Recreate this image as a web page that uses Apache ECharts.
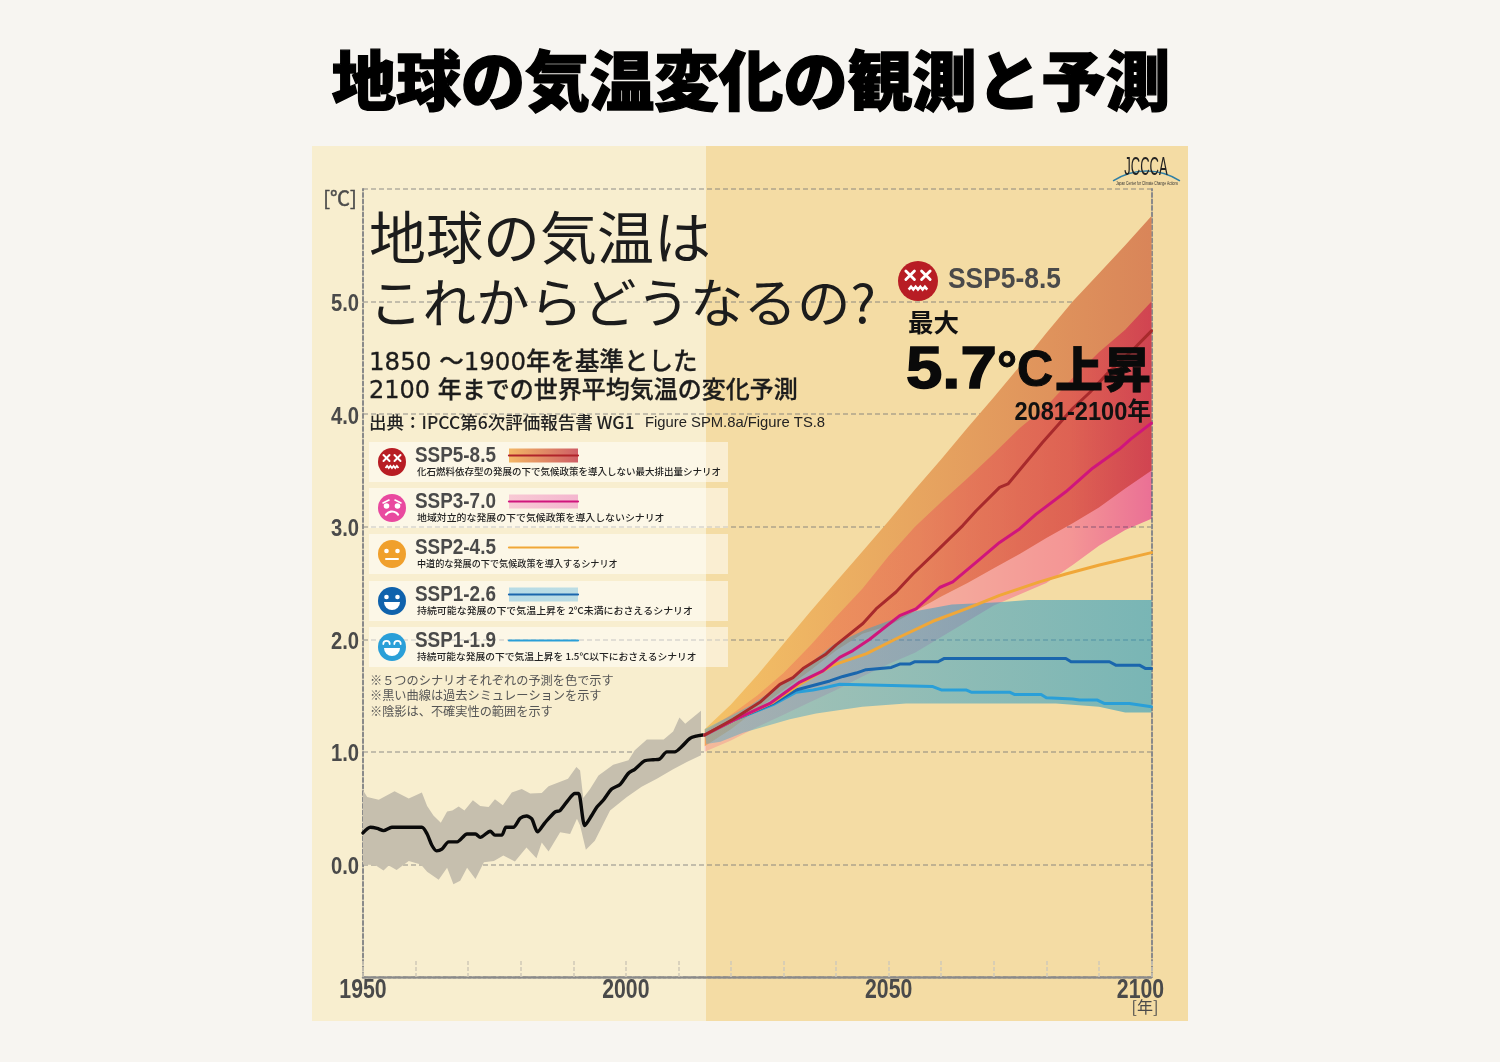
<!DOCTYPE html>
<html lang="ja"><head><meta charset="utf-8">
<script src="https://cdn.jsdelivr.net/npm/echarts@6/dist/echarts.min.js"></script>
<style>html,body{margin:0;padding:0;background:#f7f5f1}#c{width:1500px;height:1062px}</style>
</head><body><div id="c"></div>
<script>
// ---- data: [year, °C] ----
const xTickLabels = [1950, 2000, 2050, 2100];
const yTickLabels = [0, 1, 2, 3, 4, 5];
const scenarioNames = ['SSP5-8.5','SSP3-7.0','SSP2-4.5','SSP1-2.6','SSP1-1.9'];
const scenarioNotes = [
 '化石燃料依存型の発展の下で気候政策を導入しない最大排出量シナリオ',
 '地域対立的な発展の下で気候政策を導入しないシナリオ',
 '中道的な発展の下で気候政策を導入するシナリオ',
 '持続可能な発展の下で気温上昇を 2℃未満におさえるシナリオ',
 '持続可能な発展の下で気温上昇を 1.5℃以下におさえるシナリオ'];
const footNotes = ['※５つのシナリオそれぞれの予測を色で示す','※黒い曲線は過去シミュレーションを示す','※陰影は、不確実性の範囲を示す'];

const historyMean = [[1950,.28],[1951.4,.33],[1952.7,.32],[1953.9,.3],[1955.5,.33],[1961.2,.33],[1962.2,.27],[1963.1,.17],[1964,.12],[1965,.135],[1966.3,.2],[1967.9,.2],[1969.8,.27],[1971.4,.27],[1972.3,.24],[1974.2,.295],[1975.1,.26],[1976.4,.26],[1977.2,.33],[1978.6,.33],[1979.9,.41],[1981.1,.43],[1982.1,.405],[1983.2,.29],[1984.6,.37],[1986.5,.465],[1987.5,.48],[1989,.57],[1990.3,.63],[1991,.63],[1992.2,.345],[1993.5,.435],[1994.5,.51],[1995.7,.57],[1997.3,.67],[1998.9,.71],[2000.5,.81],[2001.7,.845],[2003.6,.92],[2005.2,.93],[2006.4,.935],[2007.8,1],[2009.3,1],[2010.6,1.045],[2012.2,1.12],[2013.4,1.14],[2014.6,1.15]];
const historyUpper = [[1950,.66],[1950.8,.6],[1953,.575],[1956,.65],[1958.7,.585],[1961.2,.64],[1962.2,.52],[1963.4,.435],[1964.8,.37],[1966,.47],[1967,.48],[1968.2,.515],[1969.3,.48],[1970.9,.57],[1972.3,.52],[1973.9,.51],[1975.1,.58],[1976.6,.525],[1978.3,.64],[1980.2,.67],[1981.8,.63],[1984,.635],[1985.3,.695],[1989,.76],[1990.6,.865],[1991.3,.835],[1991.9,.59],[1993.2,.67],[1994.8,.79],[1997.6,.885],[2000.5,.925],[2001.7,1.015],[2004,1.11],[2007.2,1.11],[2009,1.18],[2010.2,1.305],[2011.3,1.25],[2014.3,1.365]];
const historyLower = [[1950,0],[1952.3,-.005],[1953.9,-.055],[1954.9,-.01],[1956.4,-.05],[1958.7,.03],[1961,0],[1962.2,-.065],[1964.4,-.135],[1966,-.03],[1967.2,-.175],[1968.5,-.145],[1969.8,-.03],[1971.4,-.13],[1973,.02],[1974.9,.03],[1976.7,.08],[1978.9,.025],[1981.1,.15],[1983,.055],[1984,.195],[1985.3,.115],[1987.5,.285],[1989.4,.27],[1990.7,.405],[1991.3,.345],[1992.4,.13],[1994.1,.21],[1997,.48],[2000.2,.6],[2003,.69],[2005.9,.76],[2009,.845],[2011.6,.91],[2014.3,.97]];

const ssp585Upper = [[2015,1.2],[2020,1.42],[2025,1.68],[2030,1.96],[2035,2.24],[2040,2.51],[2045,2.78],[2050,3.05],[2055,3.33],[2060,3.6],[2065,3.88],[2070,4.15],[2075,4.43],[2080,4.72],[2085,5],[2090,5.25],[2095,5.5],[2100,5.76]];
const ssp585Lower = [[2015,1.05],[2020,1.2],[2025,1.38],[2030,1.55],[2035,1.72],[2040,1.9],[2045,2.05],[2050,2.12],[2055,2.25],[2060,2.38],[2065,2.5],[2070,2.63],[2075,2.76],[2080,2.9],[2085,3.03],[2090,3.17],[2095,3.34],[2100,3.5]];
const ssp370Upper = [[2015,1.18],[2020,1.33],[2025,1.5],[2030,1.7],[2035,1.94],[2040,2.2],[2045,2.45],[2050,2.74],[2055,3],[2060,3.22],[2065,3.43],[2070,3.65],[2075,3.88],[2080,4.07],[2085,4.32],[2090,4.55],[2095,4.75],[2100,5]];
const ssp370Lower = [[2015,1],[2020,1.1],[2025,1.22],[2030,1.33],[2035,1.44],[2040,1.55],[2045,1.67],[2050,1.78],[2055,1.88],[2060,2.02],[2065,2.16],[2070,2.3],[2075,2.4],[2080,2.5],[2085,2.66],[2090,2.83],[2095,2.97],[2100,3.07]];
const ssp1Upper = [[2015,1.2],[2023.6,1.41],[2033,1.71],[2039.4,1.95],[2045.7,2.09],[2055,2.25],[2062,2.31],[2071,2.33],[2076.5,2.35],[2100,2.35]];
const ssp1Lower = [[2015.3,1.07],[2018,1.09],[2022.3,1.17],[2031.2,1.29],[2036.2,1.34],[2045,1.4],[2053.3,1.43],[2081.8,1.43],[2090,1.4],[2095,1.35],[2100,1.35]];

const ssp585Line = [[2015,1.15],[2020.4,1.29],[2025.5,1.44],[2029.3,1.6],[2031.8,1.66],[2033.7,1.74],[2038.1,1.87],[2040,1.95],[2045.1,2.14],[2047.6,2.27],[2051.4,2.42],[2054.6,2.58],[2058.4,2.75],[2064.1,3.01],[2066.6,3.14],[2071.1,3.35],[2072.7,3.38],[2079.3,3.75],[2085,4.05],[2088.2,4.19],[2092,4.38],[2096,4.55],[2100,4.74]];
const ssp370Line = [[2015,1.15],[2020.4,1.28],[2027.4,1.43],[2033.1,1.62],[2037.5,1.72],[2040.7,1.84],[2043.2,1.9],[2046.4,2],[2052.1,2.21],[2055.2,2.27],[2059.7,2.46],[2062.2,2.51],[2067.3,2.71],[2071.1,2.86],[2074.9,2.98],[2078,3.11],[2083.7,3.31],[2088.8,3.52],[2093.9,3.69],[2096.1,3.78],[2100,3.92]];
const ssp245Line = [[2015,1.15],[2020.4,1.28],[2028,1.44],[2033.1,1.6],[2039.4,1.77],[2045.7,1.87],[2052.1,2.02],[2058.4,2.16],[2064.7,2.27],[2071.1,2.39],[2078.7,2.51],[2083.7,2.58],[2090.1,2.66],[2100,2.77]];
const ssp126Line = [[2015,1.15],[2020.4,1.28],[2028,1.43],[2032.4,1.55],[2035.6,1.59],[2038.8,1.63],[2041.3,1.67],[2043.8,1.7],[2045.7,1.73],[2050.5,1.75],[2052.1,1.78],[2054,1.78],[2054.9,1.8],[2059.4,1.8],[2060.6,1.83],[2083.7,1.83],[2084.7,1.8],[2092,1.8],[2093.2,1.77],[2097.7,1.77],[2098.9,1.74],[2100,1.74]];
const ssp119Line = [[2015,1.15],[2020.4,1.28],[2028,1.42],[2032.4,1.53],[2035.6,1.55],[2037.8,1.57],[2040.7,1.6],[2058.4,1.58],[2060,1.55],[2064.7,1.55],[2065.7,1.53],[2073,1.53],[2073.9,1.51],[2079,1.51],[2080,1.48],[2085,1.47],[2086.3,1.46],[2089.7,1.46],[2091,1.43],[2095.8,1.43],[2100,1.4]];

// ---- styling ----
const CJK = '"Noto Sans CJK JP",sans-serif';
const SANS = '"Liberation Sans","Noto Sans CJK JP",sans-serif';
const WIDE = '"DejaVu Sans","Noto Sans CJK JP",sans-serif';
const GREY = '#4a4a4a';
const hGrad = (a,b) => ({type:'linear',x:0,y:0,x2:1,y2:0,colorStops:[{offset:0,color:a},{offset:1,color:b}]});
const ssp370Fill = {type:'linear',x:0,y:0,x2:1,y2:0,colorStops:[
  {offset:0,color:'rgb(255,215,240)'},{offset:.47,color:'rgb(255,203,245)'},{offset:.82,color:'rgb(255,173,232)'},{offset:1,color:'rgb(245,130,232)'}]};

function band(name, upper, lower, fill, z){
  const outline = upper.concat(lower.slice().reverse());
  return {type:'custom', name, z, coordinateSystem:'cartesian2d', silent:true,
    data: outline, encode:{x:0,y:1},
    renderItem(params, api){
      if(params.dataIndex!==0) return;
      return {type:'polygon',shape:{points:outline.map(p=>api.coord(p))},style:{fill}};
    }};
}
const line=(name,data,color,width,z,smooth)=>({type:'line',name,data,z,smooth:smooth||0,showSymbol:false,silent:true,
  lineStyle:{color,width,cap:'round',join:'round'},itemStyle:{color}});

// ---- annotations ----
function txt(text,x,y,size,o){o=o||{};return {type:'text',x,y,z:o.z||20,silent:true,scaleX:o.sx||1,style:{text,fontSize:size,fontFamily:o.font||CJK,fontWeight:o.weight||'normal',fill:o.fill||'#222',align:o.align||'left',verticalAlign:'middle',stroke:o.stroke,lineWidth:o.lw||0,lineJoin:'round'}};}
function seg(x1,y1,x2,y2,c,w){return {type:'line',z:21,silent:true,shape:{x1,y1,x2,y2},style:{stroke:c,lineWidth:w,lineCap:'round'}};}
function face(cx,cy,r,color,kind){
  const k=r/14, s=[], W='#fff';
  s.push({type:'circle',z:20,silent:true,shape:{cx,cy,r},style:{fill:color}});
  const arc=(ax,ay,ar,a0,a1,w)=>({type:'arc',z:21,silent:true,shape:{cx:cx+ax*k,cy:cy+ay*k,r:ar*k,startAngle:a0,endAngle:a1},style:{stroke:W,fill:'none',lineWidth:w*k,lineCap:'round'}});
  if(kind==='x'){
    [-5.5,5.5].forEach(d=>{s.push(seg(cx+(d-3)*k,cy-7*k,cx+(d+3)*k,cy-1*k,W,2*k));s.push(seg(cx+(d-3)*k,cy-1*k,cx+(d+3)*k,cy-7*k,W,2*k));});
    const zig=[];for(let i=0;i<=8;i++)zig.push([cx+(-6.5+i*1.62)*k,cy+(i%2?4:6)*k]);
    s.push({type:'polyline',z:21,silent:true,shape:{points:zig},style:{stroke:W,fill:'none',lineWidth:1.8*k}});
  } else if(kind==='sad'){
    s.push({type:'circle',z:21,silent:true,shape:{cx:cx-5.5*k,cy:cy-2*k,r:2.8*k},style:{fill:W}});
    s.push({type:'circle',z:21,silent:true,shape:{cx:cx+5.5*k,cy:cy-2*k,r:2.8*k},style:{fill:W}});
    s.push(seg(cx-9*k,cy-5*k,cx-3*k,cy-8*k,W,1.6*k));s.push(seg(cx+3*k,cy-8*k,cx+9*k,cy-5*k,W,1.6*k));
    s.push(arc(0,11,7.5,Math.PI*1.2,Math.PI*1.8,2.2));
  } else if(kind==='flat'){
    s.push({type:'circle',z:21,silent:true,shape:{cx:cx-5.5*k,cy:cy-3*k,r:2.3*k},style:{fill:W}});
    s.push({type:'circle',z:21,silent:true,shape:{cx:cx+5.5*k,cy:cy-3*k,r:2.3*k},style:{fill:W}});
    s.push(seg(cx-6*k,cy+5*k,cx+6*k,cy+5*k,W,2*k));
  } else {
    if(kind==='smile'){
      s.push({type:'circle',z:21,silent:true,shape:{cx:cx-5.5*k,cy:cy-4*k,r:2.3*k},style:{fill:W}});
      s.push({type:'circle',z:21,silent:true,shape:{cx:cx+5.5*k,cy:cy-4*k,r:2.3*k},style:{fill:W}});
    } else {
      s.push(arc(-5.5,-3,3.2,Math.PI,Math.PI*2,1.8));s.push(arc(5.5,-3,3.2,Math.PI,Math.PI*2,1.8));
    }
    s.push({type:'sector',z:21,silent:true,shape:{cx,cy:cy+1*k,r:8*k,r0:0,startAngle:0,endAngle:Math.PI},style:{fill:W}});
  }
  return s;
}
const faceColors=['#b81d24','#e9499f','#f0a02c','#0f62ac','#2a9fd8'];
const faceKinds=['x','sad','flat','smile','grin'];
const lineColors=['#b0242a','#d0157c','#f0a738','#1a66ad','#2a9fd8'];
const stripFills=[hGrad('#f3b765','#cf5e66'),hGrad('#f8c9d4','#f4b6cf'),null,hGrad('#b6dbe6','#bcdde4'),null];
const rowTops=[442,488,534,581,627];
const noteStretch=[1,1.042,.96,1.045,1.026];

const g=[];
g.push({type:'rect',z:-10,silent:true,shape:{x:312,y:146,width:394,height:875},style:{fill:'#f8eecf'}});
g.push({type:'rect',z:-10,silent:true,shape:{x:706,y:146,width:482,height:875},style:{fill:'#f4dca4'}});
g.push(txt('地球の気温変化の観測と予測',751,80,64.5,{align:'center',weight:'900',fill:'#000',stroke:'#000',lw:1.4}));
g.push(txt('地球の気温は',369,237,57,{fill:'#1c1c1c'}));
g.push(txt('これからどうなるの?',369,303,53.5,{fill:'#1c1c1c'}));
g.push(txt('1850 ～1900年を基準とした',369,364,24.5,{font:WIDE,weight:'500',fill:'#1c1c1c',stroke:'#1c1c1c',lw:.3}));
g.push(txt('2100 年までの世界平均気温の変化予測',369,392,24,{font:WIDE,weight:'500',fill:'#1c1c1c',stroke:'#1c1c1c',lw:.3}));
g.push(txt('出典：IPCC第6次評価報告書 WG1',369,422,17.5,{weight:'500',fill:'#222'}));
g.push(txt('Figure SPM.8a/Figure TS.8',645,423,14.8,{font:SANS,fill:'#222'}));
scenarioNames.forEach((n,i)=>{
  const t=rowTops[i];
  g.push({type:'rect',z:10,silent:true,shape:{x:369,y:t,width:359,height:40},style:{fill:'rgba(255,255,255,0.5)'}});
  g.push(...face(392,t+20,14,faceColors[i],faceKinds[i]));
  g.push(txt(n,415,t+13.5,22.5,{font:SANS,weight:'bold',fill:GREY,sx:.84}));
  if(stripFills[i]) g.push({type:'rect',z:20,silent:true,shape:{x:509,y:t+6.5,width:69,height:14},style:{fill:stripFills[i]}});
  g.push(seg(509,t+13.5,578,t+13.5,lineColors[i],2.2));
  g.push(txt(scenarioNotes[i],417,t+29,9.5,{weight:'500',fill:'#222',sx:noteStretch[i]}));
});
footNotes.forEach((n,i)=>g.push(txt(n,370,680+i*15.5,12.2,{fill:'#555'})));
g.push(...face(918,281,20,faceColors[0],'x'));
g.push(txt('SSP5-8.5',948,280,30,{font:SANS,weight:'bold',fill:GREY,sx:.88}));
g.push(txt('最大',908,322,25.5,{weight:'700',fill:'#111'}));
g.push(txt('5.7',906,371,60,{font:SANS,weight:'bold',fill:'#0a0a0a',stroke:'#0a0a0a',lw:1.5,sx:1.09}));
g.push(txt('°C',997,372,50,{font:SANS,weight:'bold',fill:'#0a0a0a',stroke:'#0a0a0a',lw:1}));
g.push(txt('上昇',1151,369,48,{align:'right',weight:'900',fill:'#0a0a0a',stroke:'#0a0a0a',lw:.8}));
g.push(txt('2081-2100年',1151,413,25,{align:'right',font:SANS,weight:'bold',fill:'#111',sx:.945}));
g.push(txt('[℃]',340,198,20,{align:'center',fill:GREY,stroke:GREY,lw:.5}));
g.push(txt('[年]',1145,1007,16,{align:'center',fill:GREY}));
g.push(txt('JCCCA',1146,168,26,{align:'center',font:SANS,fill:'#222',sx:.5}));
g.push({type:'arc',z:19,silent:true,shape:{cx:1146.5,cy:232,r:61,startAngle:Math.PI*1.5-.58,endAngle:Math.PI*1.5+.58},style:{stroke:'#2f7fa5',fill:'none',lineWidth:1.5}});
g.push(txt('Japan Center for Climate Change Actions',1147,184,4.8,{align:'center',font:SANS,fill:'#333',sx:.7}));

const dash={color:'rgba(120,120,120,0.55)',width:1.5,type:[5,3]};
const chart=echarts.init(document.getElementById('c'),null,{renderer:'canvas'});
chart.setOption({
  animation:false, backgroundColor:'#f7f5f1', graphic:{elements:g},
  grid:{left:363,right:348.5,top:189,bottom:85},
  xAxis:{type:'value',min:1950,max:2100,interval:10,
    axisLine:{show:true,onZero:false,lineStyle:{color:'#8a8a8a',width:2.5,type:[3,2]}},
    axisTick:{show:true,inside:true,length:18,lineStyle:{color:'#cfc9b8',width:1.5,type:[4,2]}},
    splitLine:{show:false},
    axisLabel:{margin:-1,fontFamily:SANS,fontWeight:'bold',fontSize:28,color:GREY,
      formatter:v=>xTickLabels.includes(v)?String(v):''}},
  yAxis:[{type:'value',min:-1,max:6,interval:1,
    axisLine:{show:true,onZero:false,lineStyle:{color:'#8a8a8a',width:2,type:[4,2.5]}},
    axisTick:{show:false},splitLine:{show:true,lineStyle:dash},
    axisLabel:{margin:4,fontFamily:SANS,fontWeight:'bold',fontSize:23.5,color:GREY,
      formatter:v=>yTickLabels.includes(v)?v.toFixed(1):''}},
   {type:'value',min:-1,max:6,interval:1,position:'right',
    axisLine:{show:true,onZero:false,lineStyle:{color:'#8a8a8a',width:2,type:[4,2.5]}},
    axisTick:{show:false},splitLine:{show:false},axisLabel:{show:false}}],
  series:[
    band('historyBand',historyUpper,historyLower,'#c6bfae',3),
    band('SSP5-8.5 range',ssp585Upper,ssp585Lower,hGrad('#f4c266','#d98559'),3),
    band('SSP3-7.0 range',ssp370Upper,ssp370Lower,ssp370Fill,4),
    band('SSP1 range',ssp1Upper,ssp1Lower,hGrad('rgba(90,170,200,0.5)','rgba(20,150,195,0.55)'),5),
    line('history',historyMean,'#0a0a0a',3.4,8,0.25),
    line(scenarioNames[4],ssp119Line,lineColors[4],3,8),
    line(scenarioNames[3],ssp126Line,lineColors[3],3,8),
    line(scenarioNames[2],ssp245Line,lineColors[2],3,8),
    line(scenarioNames[1],ssp370Line,lineColors[1],3,8),
    line(scenarioNames[0],ssp585Line,'#a82a2c',3,8)
  ]
});
// post-render touches the option API has no key for: condensed tick numerals, multiply blend of the SSP3-7.0 range
const zr=chart.getZr();
const touch=el=>{
  if(el.type==='text'&&el.style&&typeof el.style.text==='string'){
    const t=el.style.text;
    if(/^\d{4}$/.test(t)){el.scaleX=.76;if(t==='2100')el.x-=11;el.markRedraw();}
    else if(/^\d\.0$/.test(t)&&el.style.fontSize==23.5){el.scaleX=.86;el.y+=3;el.markRedraw();}
  }
  if(el.style&&el.style.fill&&el.style.fill.colorStops&&el.style.fill.colorStops.length===4){
    el.style.blend='multiply';el.markRedraw();
  }
};
zr.storage.getRoots().forEach(r=>{touch(r);if(r.traverse)r.traverse(touch);});
zr.refreshImmediately();
</script></body></html>
